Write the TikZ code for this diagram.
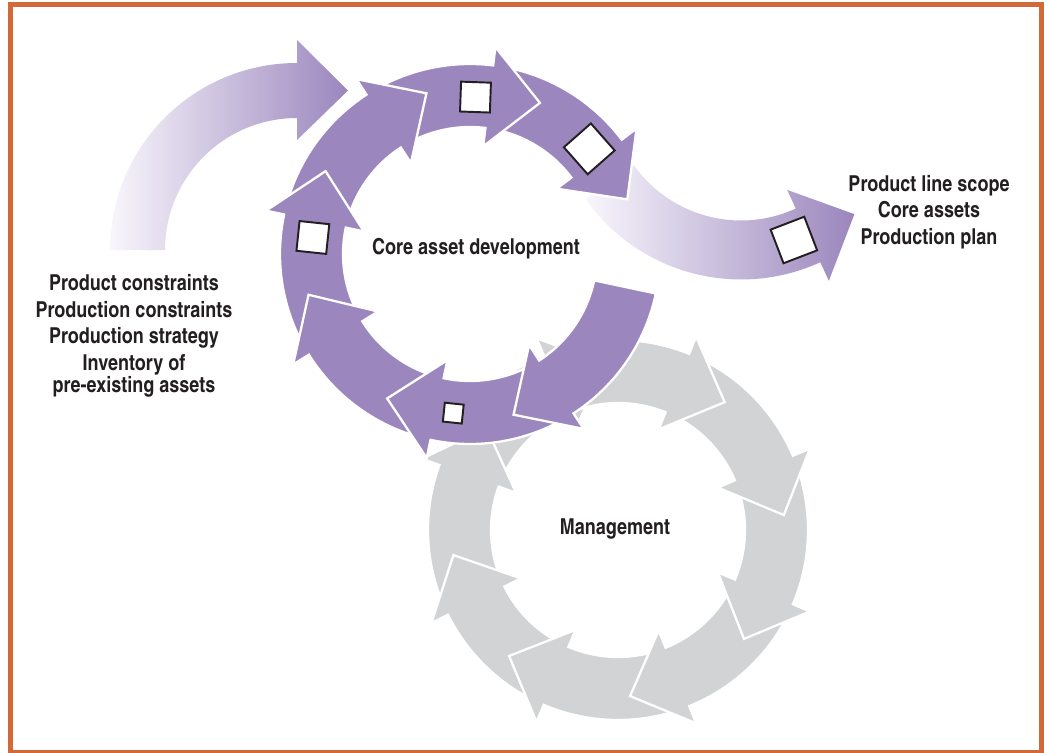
\documentclass[tikz,border=0pt]{standalone}
\usepackage{fontspec}
\usetikzlibrary{calc}
\newfontfamily\labelfont{texgyreheroscn-bold.otf}
\definecolor{framecol}{RGB}{209,106,56}
\definecolor{cadpurple}{RGB}{155,134,189}
\definecolor{mgmtgray}{RGB}{209,211,212}
\definecolor{paleviolet}{RGB}{248,246,252}
\definecolor{textcol}{RGB}{35,31,32}
\newcommand*{\ringin  }{127}
\newcommand*{\ringout }{190}
\newcommand*{\ringmid }{158.5}
\newcommand*{\flarein }{108.5}
\newcommand*{\flareout}{208.5}
\newcommand*{\headlen }{51}
% clockwise block arrow on a ring: centre, tail angle, head angle
\newcommand*{\cycarrow}[3]{($(#1)+(#2:\ringout)$) arc[start angle=#2, end angle=#3, radius=\ringout]
    -- ($(#1)+(#3:\flareout)$) -- ($(#1)+(#3:\ringmid)+(#3-90:\headlen)$) -- ($(#1)+(#3:\flarein)$)
    -- ($(#1)+(#3:\ringin)$) arc[start angle=#3, end angle=#2, radius=\ringin] -- cycle}

\begin{document}
\begin{tikzpicture}[x=0.02cm, y=0.02cm, font=\labelfont\fontsize{12.5}{12.6}\selectfont,
    ringarrow/.style={draw=white, line width=1.3pt},
    sqmark/.style={draw=textcol, fill=white, line width=1.1pt, inner sep=0pt, minimum size=17pt}]
    \useasboundingbox (0,0) rectangle (1048,752);
    \draw [framecol, line width=2.85pt] (10.5,-0.5) rectangle (1041.5,747.5);
    \coordinate (pc) at (470,498);
    \coordinate (gc) at (618,222);
    \coordinate (ic) at (297,502);
    \coordinate (oc) at (741,663);
    % management cycle, the joint at the top lies under the purple ring
    \filldraw [ringarrow, fill=mgmtgray] \cycarrow{gc}{158}{113};
    \filldraw [ringarrow, fill=mgmtgray] \cycarrow{gc}{-155.5}{-200};
    \filldraw [ringarrow, fill=mgmtgray] \cycarrow{gc}{-115}{-153.5};
    \filldraw [ringarrow, fill=mgmtgray] \cycarrow{gc}{-70}{-113};
    \filldraw [ringarrow, fill=mgmtgray] \cycarrow{gc}{-25}{-68};
    \filldraw [ringarrow, fill=mgmtgray] \cycarrow{gc}{21}{-23};
    \filldraw [ringarrow, fill=mgmtgray] \cycarrow{gc}{66}{23};
    \filldraw [ringarrow, fill=mgmtgray] \cycarrow{gc}{111}{68};
    % inputs and outputs
    \shade [left color=paleviolet, right color=cadpurple] ($(ic)+(180:187)$) arc[start angle=180, end angle=90, radius=187]
        -- ($(ic)+(90:210)$) -- ($(ic)+(90:159.5)+(0:51)$) -- ($(ic)+(90:110)$)
        -- ($(ic)+(90:132)$) arc[start angle=90, end angle=180, radius=132] -- cycle;
    \shade [left color=paleviolet, right color=cadpurple] ($(oc)+(215.5:190.5)$) arc[start angle=215.5, end angle=294.6, radius=190.5]
        -- ($(oc)+(294.6:211)$) -- ($(oc)+(294.6:161)+(24.6:51)$) -- ($(oc)+(294.6:111)$)
        -- ($(oc)+(294.6:131.5)$) arc[start angle=294.6, end angle=215.5, radius=131.5] -- cycle;
    % core asset development cycle
    \filldraw [ringarrow, fill=cadpurple] \cycarrow{pc}{81}{37};
    \filldraw [ringarrow, fill=cadpurple] \cycarrow{pc}{121}{83};
    \filldraw [ringarrow, fill=cadpurple] \cycarrow{pc}{166}{123};
    \filldraw [ringarrow, fill=cadpurple] \cycarrow{pc}{210}{168};
    \filldraw [ringarrow, fill=cadpurple] \cycarrow{pc}{256}{212};
    \filldraw [ringarrow, fill=cadpurple] \cycarrow{pc}{301}{258};
    \filldraw [ringarrow, fill=cadpurple] \cycarrow{pc}{348}{303};
    \node [sqmark, rotate=-2] (sqtop) at ($(pc)+(88:157)$) {};
    \node [sqmark, rotate=-48.6, minimum size=20.5pt] (sqright) at ($(pc)+(41.4:159)$) {};
    \node [sqmark, rotate=84] (sqleft) at ($(pc)+(174:158)$) {};
    \node [sqmark, rotate=-6, minimum size=10.8pt] (sqbottom) at ($(pc)+(-96:160)$) {};
    \node [sqmark, rotate=21, minimum size=20.5pt] (sqout) at ($(oc)+(289.3:160)$) {};
    % labels
    \node [text=textcol] (cad) at (476,503) {Core asset development};
    \node [text=textcol] (mgmt) at (615,223) {Management};
    \node [text=textcol, align=center] (inputs) at (134,416) {Product constraints\\[2.6pt]Production constraints\\[2.6pt]Production strategy\\[2.6pt]Inventory of\\pre-existing assets};
    \node [text=textcol, align=center] (outputs) at (929,540) {Product line scope\\[2.6pt]Core assets\\[2.6pt]Production plan};
\end{tikzpicture}
\end{document}
